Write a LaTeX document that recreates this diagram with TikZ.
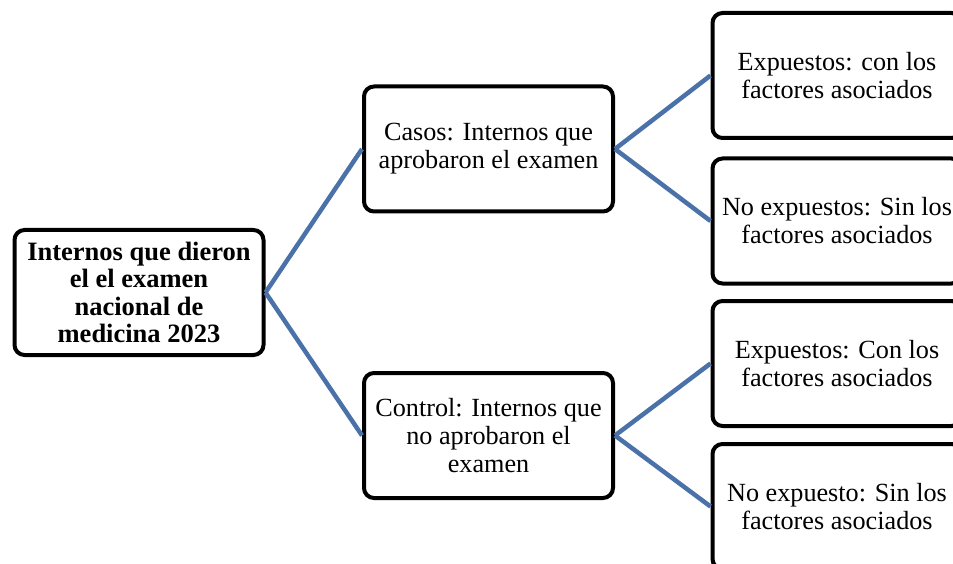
\documentclass[tikz,border=0pt]{standalone}
\usepackage{fontspec}
\setmainfont{Liberation Serif}
\usepackage{tikz}
\definecolor{linkblue}{RGB}{74,114,168}
\tikzstyle{box}=[draw, fill=white, line width=4pt, rounded corners=10pt, minimum width=249pt, minimum height=125pt, inner sep=0pt, align=center, font=\fontsize{26.2}{28}\selectfont]
\tikzstyle{rootbox}=[box, font=\fontsize{26.5}{27.5}\selectfont\bfseries]
\tikzstyle{link}=[draw=linkblue, line width=4.5pt]

\begin{document}
\begin{tikzpicture}[x=1pt, y=-1pt]
		   \useasboundingbox (0,0) rectangle (953,564);
		   \clip (0,0) rectangle (953,564);
		   \begin{scope}
			   \node (0) at (139, 292.5)[rootbox] {Internos que dieron\\el el examen\\nacional de\\medicina 2023};
			   \node (1) at (488.5, 149)[box] {Casos: Internos que\\aprobaron el examen};
			   \node (2) at (488.5, 435.5)[box] {Control: Internos que\\no aprobaron el\\examen};
			   \node (11) at (837, 75.5)[box] {Expuestos: con los\\factores asociados};
			   \node (12) at (837, 221)[box] {No expuestos: Sin los\\factores asociados};
			   \node (21) at (837, 363.5)[box] {Expuestos: Con los\\factores asociados};
			   \node (22) at (837, 506.5)[box] {No expuesto: Sin los\\factores asociados};
		   \end{scope}
		   \begin{scope}
			   \path [link] (0.east) edge (1.west);
			   \path [link] (0.east) edge (2.west);
			   \path [link] (1.east) edge (11.west);
			   \path [link] (1.east) edge (12.west);
			   \path [link] (2.east) edge (21.west);
			   \path [link] (2.east) edge (22.west);
		   \end{scope}
	   \end{tikzpicture}
\end{document}
